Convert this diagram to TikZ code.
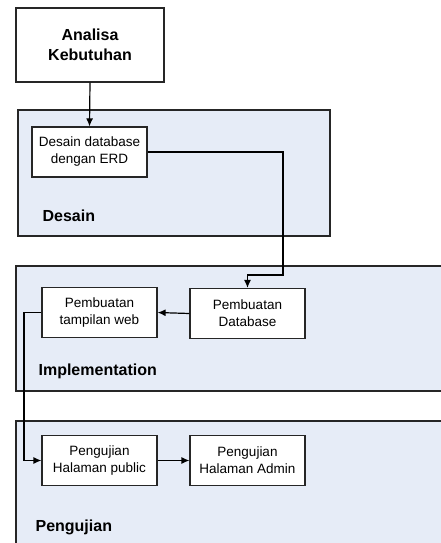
\documentclass[tikz,border=0pt]{standalone}
\usepackage{fontspec}
\setmainfont{Liberation Sans}
\usetikzlibrary{arrows.meta}

\definecolor{panelblue}{RGB}{230,236,247}

\begin{document}
\begin{tikzpicture}[x=1pt, y=-1pt, line width=1.2pt, >={Latex[length=8pt,width=7pt]}]
          \tikzset{PanelStyle/.style={draw=black!85, fill=panelblue}}
          \tikzset{BoxStyle/.style={draw=black!85, fill=white, inner sep=0pt,
              minimum width=115pt, minimum height=50pt, align=center,
              font=\fontsize{13.5}{17}\selectfont}}
          \tikzset{LabelStyle/.style={anchor=base west, inner sep=0pt,
              font=\fontsize{16}{20}\selectfont\bfseries}}
          \tikzset{EdgeStyle/.style={->, black}}

          \useasboundingbox (0,0) rectangle (440,543);

          % phases
          \draw[PanelStyle] (18,110) rectangle (330,236);
          \draw[PanelStyle] (16,266) rectangle (446,391);
          \draw[PanelStyle] (16,421) rectangle (446,550);

          \node[LabelStyle] (desain) at (42,221.5) {Desain};
          \node[LabelStyle] (impl) at (38,375) {Implementation};
          \node[LabelStyle] (uji) at (35,531.5) {Pengujian};

          % steps
          \node[BoxStyle, minimum width=148pt, minimum height=74pt,
                font=\fontsize{16}{20}\selectfont\bfseries] (analisa) at (90,45) {Analisa\\Kebutuhan};
          \node[BoxStyle] (erd) at (89.5,152) {Desain database\\dengan ERD};
          \node[BoxStyle] (db) at (247.5,313.5) {Pembuatan\\Database};
          \node[BoxStyle] (web) at (99.5,312.5) {Pembuatan\\tampilan web};
          \node[BoxStyle] (pub) at (99.5,460.5) {Pengujian\\Halaman public};
          \node[BoxStyle] (admin) at (247.5,460.5) {Pengujian\\Halaman Admin};

          \coordinate (bendA) at (283,275);
          \coordinate (bendB) at (24,400);

          \draw[EdgeStyle] (analisa.south) -- (erd.north);
          \draw[EdgeStyle] (erd.east) -| (bendA) -| (db.north);
          \draw[EdgeStyle] (db.west) -- (web.east);
          \draw[EdgeStyle] (web.west) -| (bendB) |- (pub.west);
          \draw[EdgeStyle] (pub.east) -- (admin.west);
        \end{tikzpicture}
\end{document}
